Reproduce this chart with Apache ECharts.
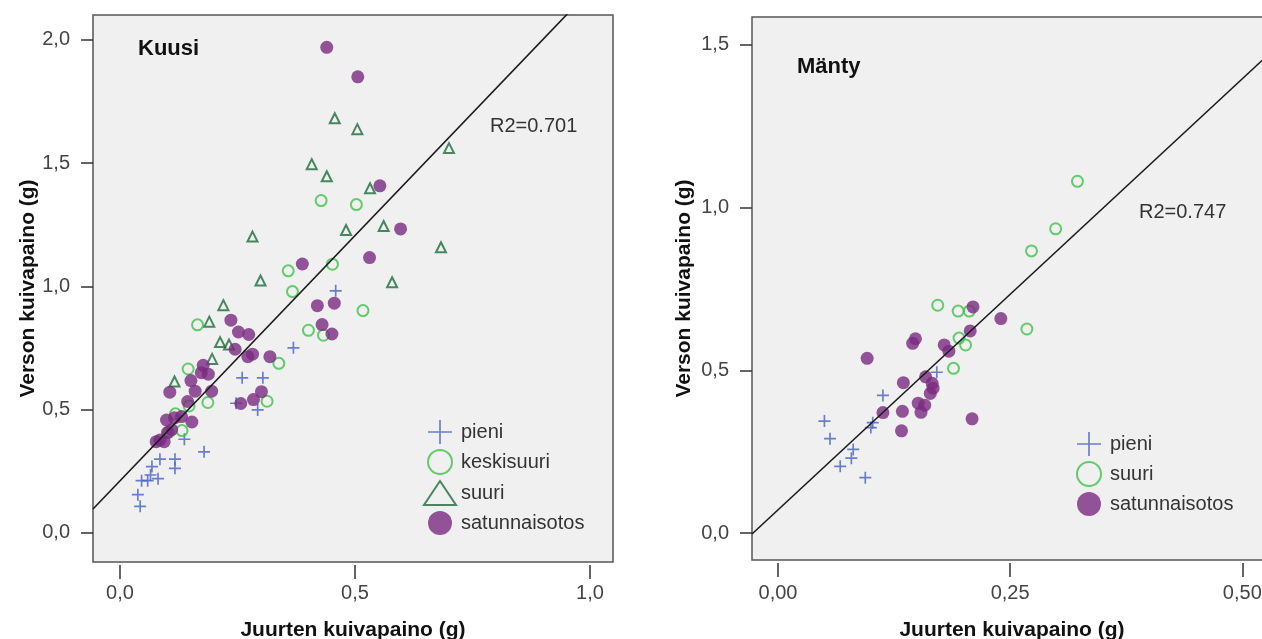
<!DOCTYPE html>
<html>
<head>
<meta charset="utf-8">
<script src="https://cdn.jsdelivr.net/npm/echarts@6/dist/echarts.min.js"></script>
<style>
  html, body { margin: 0; padding: 0; background: #ffffff; }
  #chart { width: 1262px; height: 639px; }
</style>
</head>
<body>
<div id="chart"></div>
<script>
// ---- Kuusi (spruce): root dry weight vs shoot dry weight, grams ----
const kuusiPieni = [
  [0.459,0.982],[0.369,0.751],[0.260,0.629],[0.304,0.629],[0.247,0.526],[0.293,0.499],
  [0.137,0.380],[0.179,0.329],[0.085,0.299],[0.117,0.299],[0.117,0.262],[0.068,0.269],
  [0.065,0.235],[0.046,0.212],[0.059,0.212],[0.081,0.220],[0.038,0.155],[0.043,0.108]
];
const kuusiKeskisuuri = [
  [0.428,1.348],[0.503,1.332],[0.452,1.090],[0.358,1.063],[0.367,0.979],[0.517,0.902],
  [0.401,0.822],[0.433,0.802],[0.165,0.844],[0.338,0.688],[0.145,0.665],[0.187,0.529],
  [0.313,0.534],[0.118,0.483],[0.147,0.515],[0.132,0.415],[0.104,0.409]
];
const kuusiSuuri = [
  [0.457,1.682],[0.505,1.638],[0.700,1.561],[0.408,1.496],[0.440,1.447],[0.532,1.398],
  [0.481,1.229],[0.561,1.245],[0.282,1.202],[0.683,1.159],[0.299,1.024],[0.579,1.017],
  [0.220,0.924],[0.190,0.857],[0.213,0.774],[0.232,0.764],[0.196,0.706],[0.116,0.614]
];
const kuusiSatunnainen = [
  [0.440,1.970],[0.506,1.850],[0.553,1.408],[0.597,1.233],[0.531,1.117],[0.388,1.091],
  [0.420,0.922],[0.456,0.932],[0.430,0.845],[0.451,0.807],[0.236,0.863],[0.252,0.815],
  [0.274,0.805],[0.245,0.745],[0.272,0.715],[0.282,0.725],[0.319,0.715],[0.177,0.680],
  [0.173,0.650],[0.188,0.644],[0.151,0.618],[0.160,0.575],[0.195,0.575],[0.106,0.571],
  [0.144,0.533],[0.301,0.573],[0.284,0.541],[0.257,0.525],[0.099,0.458],[0.116,0.467],
  [0.131,0.472],[0.153,0.450],[0.110,0.419],[0.101,0.407],[0.077,0.370],[0.094,0.370],
  [0.085,0.377]
];
const kuusiFit = { intercept: 0.211, slope: 1.99, r2: '0.701' };

// ---- Mänty (pine) ----
const mantyPieni = [
  [0.171,0.494],[0.113,0.423],[0.050,0.344],[0.102,0.339],[0.100,0.324],[0.056,0.290],
  [0.081,0.257],[0.079,0.230],[0.067,0.205],[0.094,0.170]
];
const mantySuuri = [
  [0.3225,1.081],[0.299,0.935],[0.273,0.867],[0.268,0.627],[0.172,0.700],[0.194,0.682],
  [0.206,0.682],[0.195,0.599],[0.202,0.578],[0.189,0.506]
];
const mantySatunnainen = [
  [0.210,0.695],[0.240,0.659],[0.207,0.621],[0.148,0.597],[0.145,0.583],[0.179,0.578],
  [0.184,0.559],[0.096,0.537],[0.159,0.480],[0.135,0.462],[0.166,0.460],[0.167,0.445],
  [0.164,0.429],[0.151,0.399],[0.158,0.393],[0.154,0.371],[0.134,0.374],[0.113,0.370],
  [0.209,0.351],[0.133,0.314]
];
const mantyFit = { intercept: 0.071, slope: 2.65, r2: '0.747' };

// ---- tick labels ----
const kuusiXTicks = [0, 0.5, 1.0];
const kuusiYTicks = [0, 0.5, 1.0, 1.5, 2.0];
const mantyXTicks = [0, 0.25, 0.5];
const mantyYTicks = [0, 0.5, 1.0, 1.5];

const xTitle = 'Juurten kuivapaino (g)';
const yTitle = 'Verson kuivapaino (g)';

// ---- styling ----
const FONT = '"Liberation Sans", Arial, Helvetica, sans-serif';
const C_PIENI = '#4562c2';
const C_KESKI = '#3fc24b';
const C_SUURI = '#1d6b3d';
const C_SATU = '#7b2a81';
const PLUS = 'path://M8.6,0h2.8v8.6h8.6v2.8h-8.6v8.6h-2.8v-8.6h-8.6v-2.8h8.6z';
const PLUS_THIN = 'path://M9.3,0h1.4v9.3h9.3v1.4h-9.3v9.3h-1.4v-9.3h-9.3v-1.4h9.3z';

const comma = (d) => (v) => v.toFixed(d).replace('.', ',');

function xAxisFor(grid, min, max, ticks, digits, labelMargin, gap) {
  return {
    type: 'value', gridIndex: grid, min: min, max: max, offset: 3, position: 'bottom',
    axisLine: { show: false, onZero: false },
    axisTick: { show: true, length: 14, customValues: ticks, lineStyle: { color: '#333', width: 1.5 } },
    axisLabel: { customValues: ticks, formatter: comma(digits), margin: labelMargin, color: '#444', fontSize: 20, fontFamily: FONT },
    splitLine: { show: false },
    name: xTitle, nameLocation: 'middle', nameGap: gap,
    nameTextStyle: { fontSize: 21, fontWeight: 'bold', color: '#111', fontFamily: FONT }
  };
}
function yAxisFor(grid, min, max, ticks, digits, gap) {
  return {
    type: 'value', gridIndex: grid, min: min, max: max, position: 'left',
    axisLine: { show: false, onZero: false },
    axisTick: { show: true, length: 12, customValues: ticks, lineStyle: { color: '#333', width: 1.5 } },
    axisLabel: { customValues: ticks, formatter: comma(digits), margin: 23, color: '#444', fontSize: 20, fontFamily: FONT },
    splitLine: { show: false },
    name: yTitle, nameLocation: 'middle', nameGap: gap,
    nameTextStyle: { fontSize: 21, fontWeight: 'bold', color: '#111', fontFamily: FONT }
  };
}

function scatter(name, idx, data, kind) {
  const s = { type: 'scatter', name: name, xAxisIndex: idx, yAxisIndex: idx, data: data, z: 2 };
  if (kind === 'plus') {
    s.symbol = PLUS; s.symbolSize = 12; s.itemStyle = { color: C_PIENI };
  } else if (kind === 'ring') {
    s.symbol = 'circle'; s.symbolSize = 11;
    s.itemStyle = { color: 'rgba(0,0,0,0)', borderColor: C_KESKI, borderWidth: 2 };
  } else if (kind === 'tri') {
    s.symbol = 'triangle'; s.symbolSize = 10;
    s.itemStyle = { color: 'rgba(0,0,0,0)', borderColor: C_SUURI, borderWidth: 2 };
  } else {
    s.symbol = 'circle'; s.symbolSize = 13; s.itemStyle = { color: C_SATU };
  }
  return s;
}

function fitLine(idx, fit, xmin, xmax) {
  return {
    type: 'line', xAxisIndex: idx, yAxisIndex: idx, z: 5, silent: true, clip: true,
    showSymbol: false, symbol: 'none',
    lineStyle: { color: '#1a1a1a', width: 1.6 },
    data: [[xmin, fit.intercept + fit.slope * xmin], [xmax, fit.intercept + fit.slope * xmax]]
  };
}

const K = { xmin: -0.0574, xmax: 1.049, ymin: -0.118, ymax: 2.101 };
const M = { xmin: -0.028, xmax: 0.532, ymin: -0.083, ymax: 1.586 };

const legendText = { fontSize: 20, color: '#333', fontFamily: FONT };

const option = {
  animation: false,
  backgroundColor: '#ffffff',
  grid: [
    { left: 93, top: 15, width: 520, height: 547, outerBoundsMode: 'none', containLabel: false,
      show: true, backgroundColor: '#f0f0f0', borderColor: '#555', borderWidth: 1.5 },
    { left: 752, top: 17, width: 520, height: 543, outerBoundsMode: 'none', containLabel: false,
      show: true, backgroundColor: '#f0f0f0', borderColor: '#555', borderWidth: 1.5 }
  ],
  xAxis: [
    xAxisFor(0, K.xmin, K.xmax, kuusiXTicks, 1, 18, 55),
    xAxisFor(1, M.xmin, M.xmax, mantyXTicks, 2, 20, 57)
  ],
  yAxis: [
    yAxisFor(0, K.ymin, K.ymax, kuusiYTicks, 1, 54),
    yAxisFor(1, M.ymin, M.ymax, mantyYTicks, 1, 57)
  ],
  title: [
    { text: 'Kuusi', left: 138, top: 38, padding: 0, textStyle: { fontSize: 22, fontWeight: 'bold', color: '#111', fontFamily: FONT } },
    { text: 'Mänty', left: 797, top: 56, padding: 0, textStyle: { fontSize: 22, fontWeight: 'bold', color: '#111', fontFamily: FONT } },
    { text: 'R2=' + kuusiFit.r2, left: 490, top: 116, padding: 0, textStyle: { fontSize: 20, fontWeight: 'normal', color: '#333', fontFamily: FONT } },
    { text: 'R2=' + mantyFit.r2, left: 1139, top: 202, padding: 0, textStyle: { fontSize: 20, fontWeight: 'normal', color: '#333', fontFamily: FONT } }
  ],
  legend: [
    {
      orient: 'vertical', left: 423, top: 420, padding: 0, itemWidth: 32, itemHeight: 24, itemGap: 5,
      selectedMode: false, textStyle: legendText,
      data: [{ name: 'pieni', icon: PLUS_THIN }, 'keskisuuri', 'suuri', 'satunnaisotos']
    },
    {
      orient: 'vertical', left: 1076, top: 432, padding: 0, itemWidth: 32, itemHeight: 24, itemGap: 5,
      selectedMode: false, textStyle: legendText,
      formatter: (n) => n.replace('Mänty: ', ''),
      data: [{ name: 'Mänty: pieni', icon: PLUS_THIN }, 'Mänty: suuri', 'Mänty: satunnaisotos']
    }
  ],
  series: [
    scatter('pieni', 0, kuusiPieni, 'plus'),
    scatter('keskisuuri', 0, kuusiKeskisuuri, 'ring'),
    scatter('suuri', 0, kuusiSuuri, 'tri'),
    scatter('satunnaisotos', 0, kuusiSatunnainen, 'dot'),
    fitLine(0, kuusiFit, K.xmin, K.xmax),
    scatter('Mänty: pieni', 1, mantyPieni, 'plus'),
    scatter('Mänty: suuri', 1, mantySuuri, 'ring'),
    scatter('Mänty: satunnaisotos', 1, mantySatunnainen, 'dot'),
    fitLine(1, mantyFit, M.xmin, M.xmax)
  ]
};

const chart = echarts.init(document.getElementById('chart'), null, { renderer: 'canvas' });
chart.setOption(option);
</script>
</body>
</html>
